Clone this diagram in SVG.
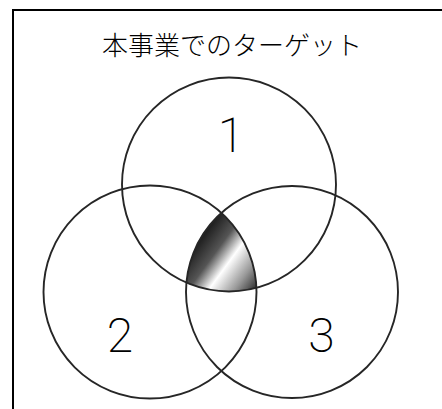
<svg xmlns="http://www.w3.org/2000/svg" width="442" height="409" viewBox="0 0 442 409">
<style>
.frame{fill:none;stroke:#000;stroke-width:2}
.ring{fill:none;stroke:#262626;stroke-width:1.9}
.num{font-family:Roboto,"Liberation Sans",sans-serif;font-weight:200;font-size:48px;fill:#000;text-anchor:middle}
.title{font-family:"Liberation Serif","Noto Sans CJK JP",serif;font-weight:300;font-size:26px;fill:#000;text-anchor:middle}
</style>
<defs>
<linearGradient id="metal" gradientUnits="userSpaceOnUse" x1="195" y1="238" x2="262" y2="287">
<stop offset="0" stop-color="#111"/>
<stop offset="0.3" stop-color="#555"/>
<stop offset="0.5" stop-color="#fff"/>
<stop offset="0.75" stop-color="#999"/>
<stop offset="1" stop-color="#1a1a1a"/>
</linearGradient>
<clipPath id="c1"><circle cx="229" cy="184.5" r="107"/></clipPath>
<clipPath id="c2"><circle cx="150" cy="292" r="106.5"/></clipPath>
<clipPath id="c3"><circle cx="292" cy="292" r="106"/></clipPath>
</defs>
<rect class="frame" x="13" y="10" width="440" height="410"/>
<text class="title" x="232" y="55">本事業でのターゲット</text>
<g id="overlap">
<g clip-path="url(#c1)"><g clip-path="url(#c2)">
<rect x="170" y="200" width="100" height="100" fill="url(#metal)" clip-path="url(#c3)"/>
</g></g>
</g>
<g id="set1">
<circle class="ring" cx="229" cy="184.5" r="107"/>
<text class="num" x="231" y="152">1</text>
</g>
<g id="set2">
<circle class="ring" cx="150" cy="292" r="106.5"/>
<text class="num" x="120" y="352">2</text>
</g>
<g id="set3">
<circle class="ring" cx="292" cy="292" r="106"/>
<text class="num" x="321.5" y="352">3</text>
</g>
</svg>
